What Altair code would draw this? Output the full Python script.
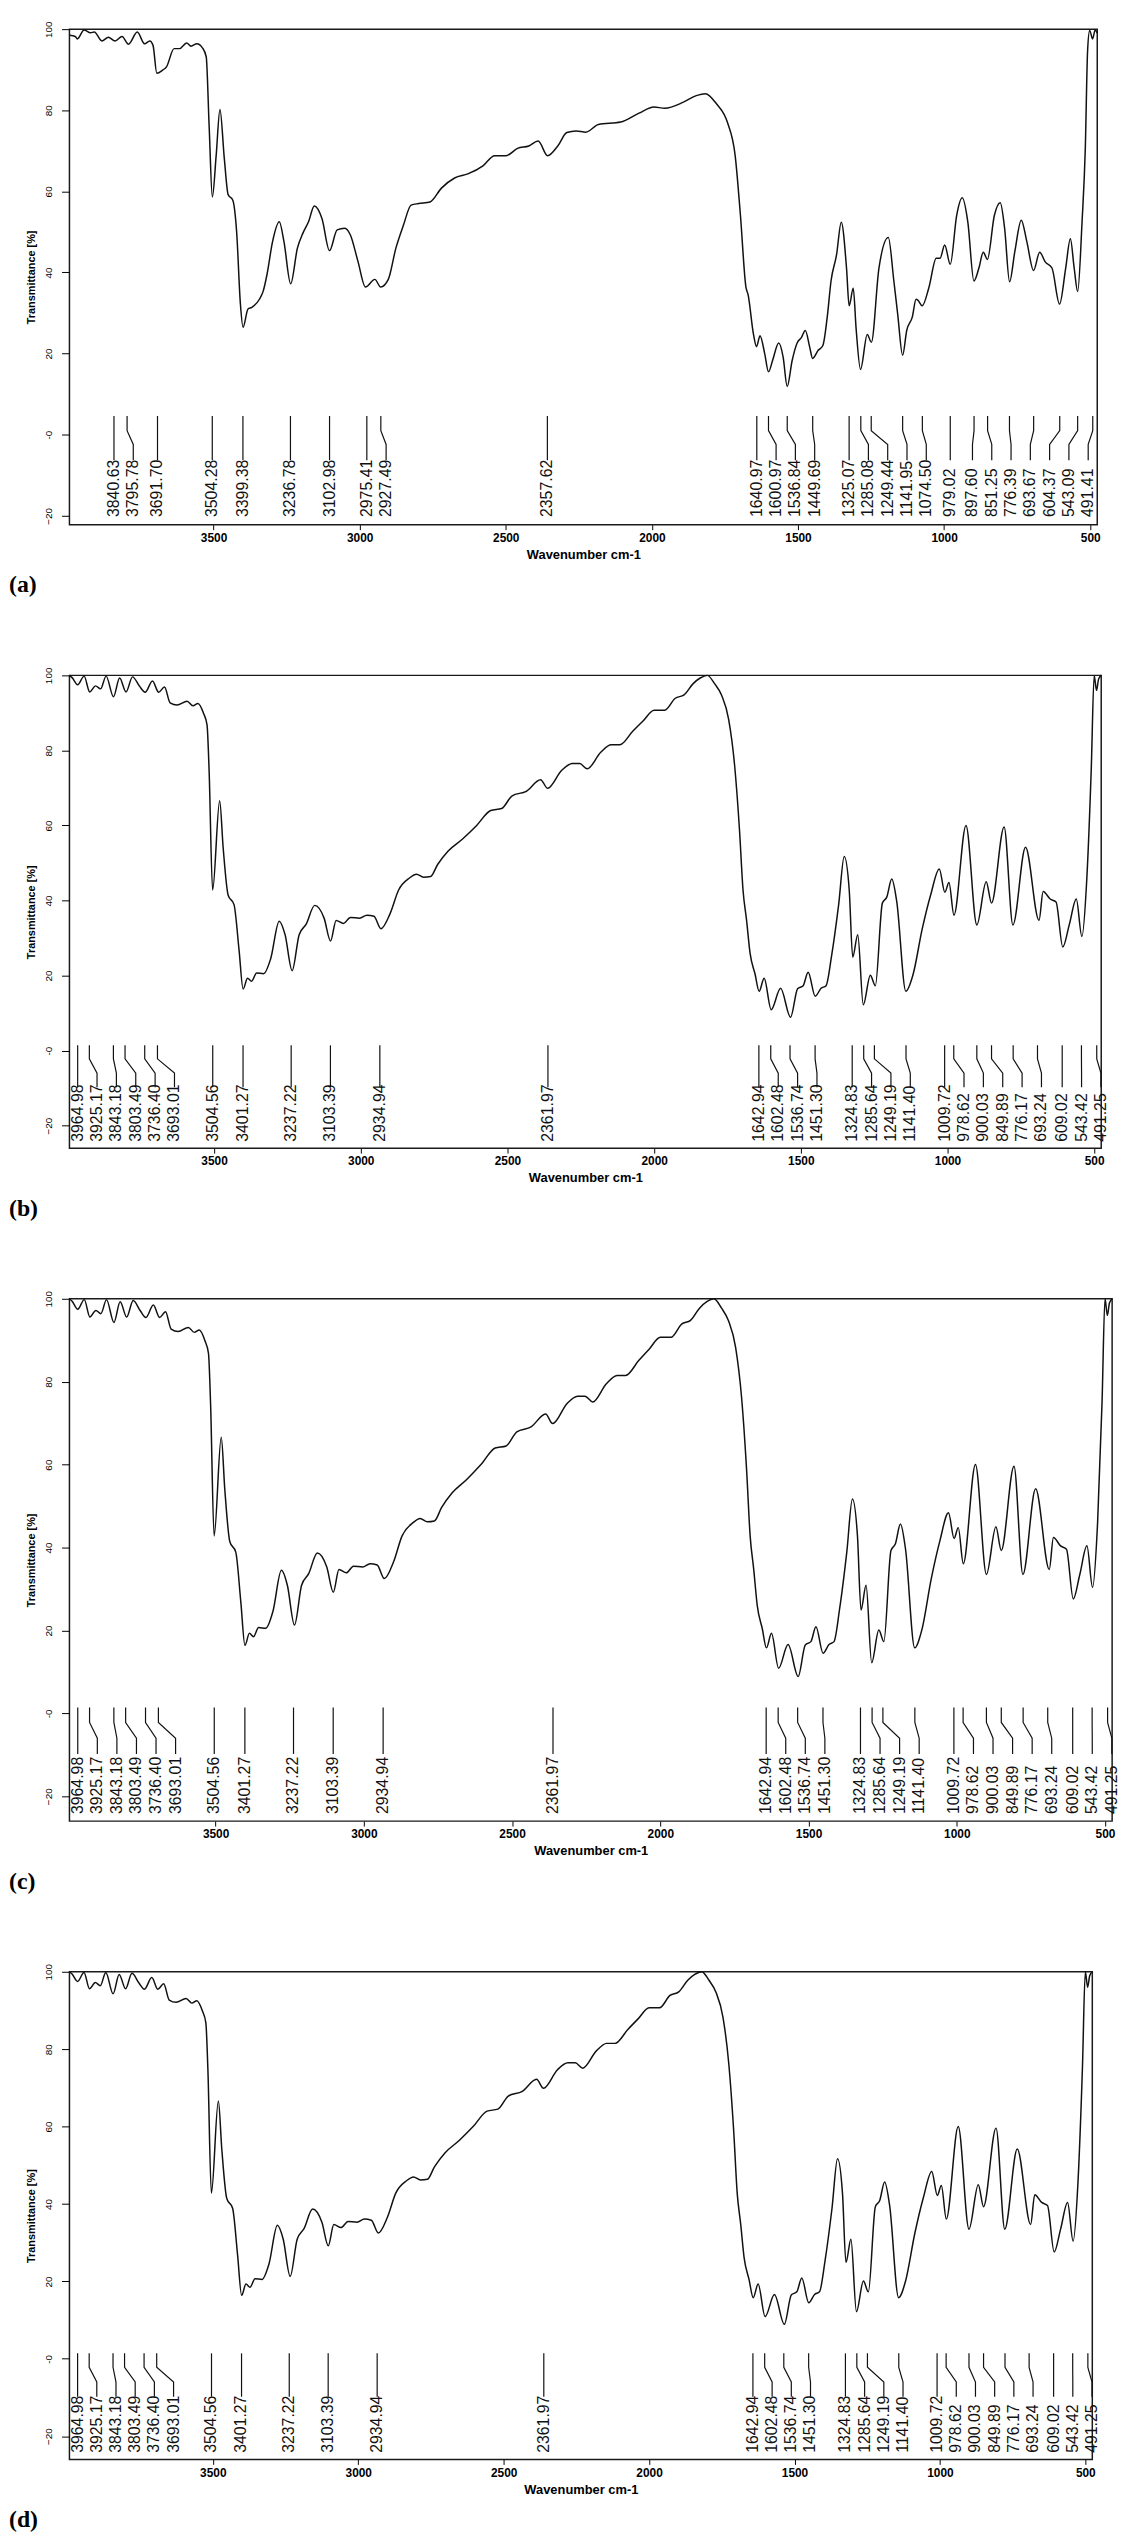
import altair as alt
import pandas as pd

# ---------------- data ----------------
# spectrum (a): wavenumber (cm-1) and transmittance (%)
wn_a = [3992, 3973, 3966, 3943, 3921, 3908, 3882, 3860, 3837, 3813, 3791, 3761, 3736, 3718, 3707,
        3694, 3674, 3661, 3635, 3616, 3592, 3577, 3557, 3538, 3525, 3515, 3504, 3491, 3478, 3463,
        3450, 3434, 3421, 3408, 3399, 3382, 3369, 3343, 3330, 3317, 3298, 3275, 3259, 3236, 3213,
        3194, 3175, 3155, 3129, 3103, 3077, 3051, 3032, 3006, 2980, 2948, 2928, 2902, 2876, 2850,
        2824, 2798, 2759, 2720, 2675, 2630, 2578, 2538, 2499, 2460, 2421, 2389, 2357, 2322, 2291,
        2259, 2226, 2183, 2107, 2044, 1993, 1956, 1892, 1848, 1817, 1779, 1741, 1715, 1697, 1678,
        1671, 1652, 1642, 1630, 1614, 1601, 1587, 1566, 1551, 1537, 1520, 1503, 1488, 1475, 1460,
        1450, 1431, 1415, 1400, 1387, 1368, 1352, 1334, 1325, 1311, 1301, 1286, 1263, 1249, 1223,
        1191, 1172, 1159, 1142, 1128, 1109, 1096, 1090, 1075, 1052, 1027, 1014, 998, 979, 957,
        938, 919, 898, 881, 866, 852, 828, 808, 793, 776, 758, 736, 717, 694, 673,
        654, 631, 605, 584, 568, 555, 543, 528, 517, 509, 502, 492, 483, 476]
t_a = [98.5, 98.2, 97.6, 99.8, 99.1, 99.3, 97.1, 98.0, 97.1, 98.2, 96.3, 99.3, 96.4, 97.1, 96.0,
       89.1, 89.9, 90.7, 95.2, 95.2, 96.6, 95.8, 96.4, 95.4, 93.2, 76.1, 58.6, 68.8, 80.2, 68.0,
       59.2, 57.8, 50.1, 32.2, 26.5, 31.0, 31.4, 33.4, 35.4, 39.5, 47.6, 52.5, 47.6, 37.2, 46.0,
       49.7, 52.5, 56.4, 53.3, 45.4, 50.5, 50.9, 49.3, 42.8, 36.4, 38.3, 36.4, 38.3, 46.0, 51.7,
       56.6, 57.0, 57.4, 60.8, 63.3, 64.3, 66.3, 68.8, 68.8, 70.6, 71.2, 72.4, 68.8, 71.2, 74.5,
       74.9, 74.6, 76.5, 77.1, 79.3, 80.8, 80.5, 82.0, 83.6, 84.1, 81.6, 76.9, 68.8, 54.1, 36.3,
       34.6, 24.6, 21.7, 24.4, 20.0, 15.5, 18.3, 22.6, 19.2, 11.9, 18.3, 22.6, 24.0, 25.7, 21.6,
       18.8, 20.8, 22.0, 29.0, 37.9, 44.4, 52.4, 41.1, 31.8, 36.1, 26.0, 16.1, 24.7, 22.8, 41.1,
       48.6, 37.9, 29.8, 19.6, 25.7, 29.0, 33.4, 33.2, 31.8, 36.3, 43.5, 43.5, 46.8, 42.0, 54.1,
       58.4, 52.5, 37.9, 41.1, 45.0, 43.2, 54.1, 57.2, 50.9, 37.7, 45.2, 52.9, 47.6, 40.5, 45.0,
       42.6, 41.1, 32.2, 41.1, 48.3, 41.1, 35.3, 52.5, 70.4, 94.8, 99.7, 97.6, 99.8, 99.0]

# spectrum shared by (b), (c) and (d)
wn_b = [3993, 3984, 3965, 3943, 3924, 3904, 3887, 3868, 3843, 3822, 3800, 3778, 3754, 3735, 3710,
        3689, 3669, 3650, 3626, 3592, 3572, 3555, 3536, 3524, 3517, 3505, 3481, 3469, 3452, 3432,
        3415, 3401, 3386, 3372, 3355, 3331, 3307, 3278, 3258, 3234, 3210, 3186, 3157, 3125, 3103,
        3084, 3059, 3035, 3004, 2979, 2955, 2931, 2900, 2871, 2834, 2810, 2786, 2762, 2738, 2702,
        2653, 2605, 2557, 2520, 2484, 2436, 2387, 2363, 2315, 2279, 2254, 2228, 2182, 2146, 2117,
        2073, 2037, 2000, 1964, 1928, 1898, 1867, 1843, 1819, 1794, 1770, 1746, 1726, 1709, 1697,
        1685, 1673, 1656, 1642, 1625, 1601, 1569, 1535, 1511, 1492, 1475, 1451, 1431, 1414, 1395,
        1371, 1352, 1335, 1323, 1306, 1287, 1263, 1246, 1222, 1207, 1190, 1173, 1142, 1118, 1086,
        1057, 1028, 1009, 995, 978, 937, 900, 868, 850, 807, 777, 734, 688, 674, 650,
        630, 607, 585, 561, 542, 525, 510, 500, 492, 485, 476]
t_b = [100.0, 99.4, 97.5, 99.8, 95.6, 97.2, 96.4, 99.8, 94.3, 99.3, 95.6, 99.6, 97.1, 95.5, 98.5,
       95.5, 96.9, 92.7, 92.1, 93.1, 91.9, 92.5, 89.9, 86.8, 74.8, 42.8, 66.6, 54.0, 41.4, 38.9,
       26.9, 16.4, 19.3, 18.5, 20.7, 20.5, 24.5, 34.5, 30.9, 21.3, 30.9, 33.7, 38.7, 35.3, 29.2,
       34.7, 33.9, 35.5, 35.3, 36.1, 35.8, 32.5, 36.5, 42.8, 46.0, 47.0, 46.2, 46.4, 49.6, 53.2,
       56.4, 60.0, 64.0, 64.5, 67.9, 69.1, 72.2, 69.9, 74.7, 76.5, 76.5, 75.1, 79.5, 81.5, 81.5,
       85.1, 87.9, 90.7, 90.7, 93.9, 94.8, 97.8, 99.3, 100.0, 97.8, 94.7, 88.3, 76.3, 58.8, 42.8,
       34.8, 26.0, 20.4, 15.8, 19.3, 10.9, 16.6, 8.9, 16.5, 17.3, 20.9, 14.5, 16.6, 17.3, 25.3,
       38.9, 51.7, 42.8, 24.9, 30.9, 12.2, 20.1, 17.3, 39.3, 40.9, 45.7, 39.7, 15.8, 20.1, 32.5,
       41.6, 48.4, 42.2, 44.8, 36.1, 60.0, 33.5, 45.0, 39.3, 59.6, 33.5, 54.2, 34.7, 42.4, 40.4,
       39.6, 27.6, 33.5, 40.4, 30.4, 46.0, 75.0, 100.0, 96.0, 99.0, 100.0]

peaks_a = [3840.63, 3795.78, 3691.70, 3504.28, 3399.38, 3236.78, 3102.98, 2975.41, 2927.49, 2357.62,
           1640.97, 1600.97, 1536.84, 1449.69, 1325.07, 1285.08, 1249.44, 1141.95, 1074.50, 979.02,
           897.60, 851.25, 776.39, 693.67, 604.37, 543.09, 491.41]
peaks_b = [3964.98, 3925.17, 3843.18, 3803.49, 3736.40, 3693.01, 3504.56, 3401.27, 3237.22, 3103.39,
           2934.94, 2361.97, 1642.94, 1602.48, 1536.74, 1451.30, 1324.83, 1285.64, 1249.19, 1141.40,
           1009.72, 978.62, 900.03, 849.89, 776.17, 693.24, 609.02, 543.42, 491.25]

x_ticks = [3500, 3000, 2500, 2000, 1500, 1000, 500]
y_ticks = [100, 80, 60, 40, 20, 0, -20]
panel_letters = ["(a)", "(b)", "(c)", "(d)"]


def spread(peaks, gap, low_limit=None):
    """Push peak labels apart (in wavenumber units) so they do not overlap."""
    pos = []
    for p in peaks:
        pos.append(p if not pos else min(p, pos[-1] - gap))
    if low_limit is not None:
        pos[-1] = max(pos[-1], low_limit)
        for i in range(len(pos) - 2, -1, -1):
            pos[i] = max(pos[i], pos[i + 1] + gap)
    return pos


def panel(wn, t, peaks, letter, width, height, ydom, levels, low_limit=None):
    xdom = [3993, 476]
    x = alt.X("wn:Q", scale=alt.Scale(domain=xdom, nice=False, zero=False),
              axis=alt.Axis(values=x_ticks, format="d", labelFontWeight="bold", labelFontSize=12,
                            tickSize=5, labelPadding=3, labelFlush=False,
                            title="Wavenumber cm-1", titleFontSize=13, titleFontWeight="bold",
                            titlePadding=5))
    y = alt.Y("t:Q", scale=alt.Scale(domain=ydom, nice=False, zero=False),
              axis=alt.Axis(values=y_ticks, labelAngle=270, labelAlign="center",
                            labelBaseline="bottom", labelFontSize=10, tickSize=8, labelPadding=8,
                            labelExpr="datum.value == 0 ? '-0' : datum.label",
                            title="Transmittance [%]", titleFontSize=11, titleFontWeight="bold",
                            titlePadding=7))
    spec = pd.DataFrame({"wn": wn, "t": t, "i": list(range(len(wn)))})
    line = alt.Chart(spec).mark_line(color="#111111", strokeWidth=1.5,
                                     interpolate="monotone").encode(x=x, y=y, order="i:Q")

    lab = spread(peaks, 66, low_limit)
    rows = []
    for k, (p, q) in enumerate(zip(peaks, lab)):
        pts = [(p, levels[0]), (p, levels[1]), (q, levels[2]), (q, levels[3])]
        for o, (w, v) in enumerate(pts):
            rows.append({"pid": k, "o": o, "wn": w, "t": v})
    ann = alt.Chart(pd.DataFrame(rows)).mark_line(color="#111111", strokeWidth=1.2).encode(
        x=x, y=y, detail="pid:N", order="o:Q")

    txt = pd.DataFrame({"wn": lab, "t": [levels[4]] * len(peaks),
                        "label": [f"{p:.2f}" for p in peaks]})
    texts = alt.Chart(txt).mark_text(angle=270, align="left", baseline="middle",
                                     font="Liberation Sans", fontSize=16,
                                     color="#111111").encode(x=x, y=y, text="label:N")

    return alt.layer(line, ann, texts).properties(
        width=width, height=height,
        title=alt.TitleParams(letter, orient="bottom", anchor="start", frame="group", dx=-61,
                              offset=12, font="Liberation Serif", fontSize=24,
                              fontWeight="bold", color="black"))


lv_a = [4.6, 1.0, -2.4, -6.3, -20.3]
lv_b = [1.4, -2.2, -6.0, -9.8, -24.3]
pa = panel(wn_a, t_a, peaks_a, panel_letters[0], 1037, 500, [-22.2, 100], lv_a, low_limit=507)
pb = panel(wn_b, t_b, peaks_b, panel_letters[1], 1041, 477, [-26, 100], lv_b)
pc = panel(wn_b, t_b, peaks_b, panel_letters[2], 1052, 527, [-26, 100], lv_b)
pdd = panel(wn_b, t_b, peaks_b, panel_letters[3], 1032, 492, [-26, 100], lv_b)

chart = alt.vconcat(pa, pb, pc, pdd, spacing=152, bounds="flush").properties(
    padding={"left": 0, "top": 0, "right": 5, "bottom": 0}
).configure_view(
    stroke="#1a1a1a", strokeWidth=1.5
).configure_axis(
    grid=False, domain=False, tickColor="black", labelColor="black", titleColor="black",
    labelFont="Liberation Sans", titleFont="Liberation Sans"
)

chart.save("out.html", embed_options={"renderer": "svg", "actions": False})
